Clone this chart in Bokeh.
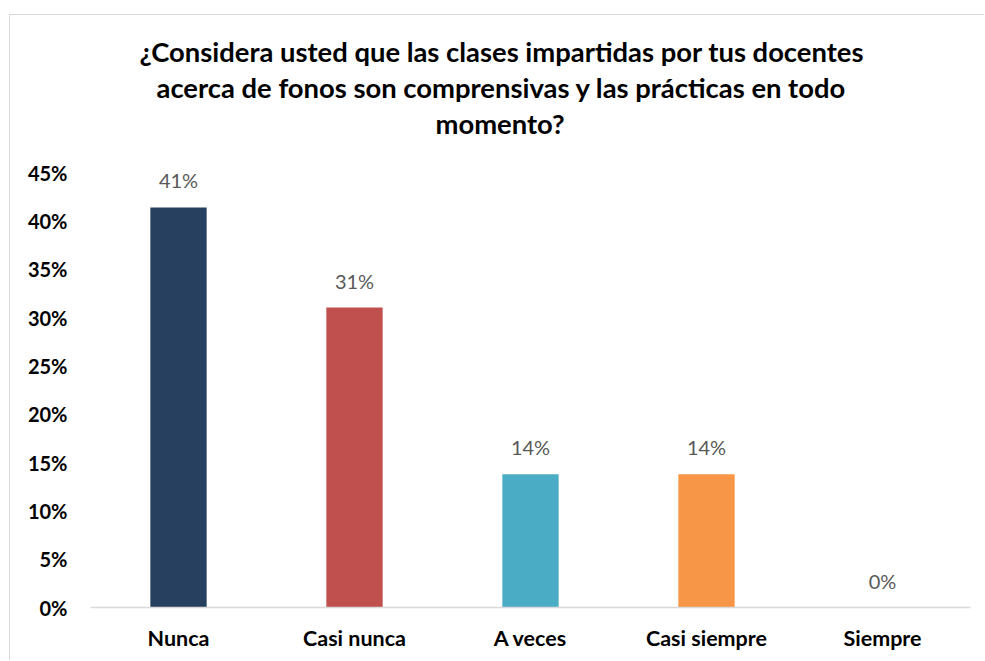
from bokeh.plotting import figure
from bokeh.models import ColumnDataSource, LabelSet, Title, NumeralTickFormatter, FixedTicker
from bokeh.core.properties import value
from bokeh.embed import file_html
from bokeh.resources import INLINE

categories = ["Nunca", "Casi nunca", "A veces", "Casi siempre", "Siempre"]
values = [0.4138, 0.3103, 0.1379, 0.1379, 0.0]
labels = ["41%", "31%", "14%", "14%", "0%"]
colors = ["#27405F", "#C0504D", "#4BACC6", "#F79646", "#4F81BD"]
title_lines = [
    "¿Considera usted que las clases impartidas por tus docentes",
    "acerca de fonos son comprensivas y las prácticas en todo",
    "momento?",
]
y_ticks = [0, 0.05, 0.10, 0.15, 0.20, 0.25, 0.30, 0.35, 0.40, 0.45]

FONT = "Lato"

src = ColumnDataSource(dict(cat=categories, val=values, lab=labels, col=colors))

p = figure(x_range=categories, y_range=(0, 0.45), width=975, height=646,
           output_backend="svg", toolbar_location=None,
           min_border_left=80, min_border_right=15, min_border_bottom=54,
           min_border_top=10,
           styles={"border-top": "1px solid #D9D9D9", "border-left": "1px solid #D9D9D9",
                   "margin-left": "9px", "margin-top": "14px"})

p.vbar(x="cat", top="val", width=0.32, fill_color="col", line_color=None, source=src)

p.add_layout(LabelSet(x="cat", y="val", text="lab", source=src, text_align="center",
                      text_baseline="bottom", y_offset=15, text_color="#595959",
                      text_font_size="20px", text_font=value(FONT)))

# title: spacer below, three lines, spacer above (first added = closest to plot)
p.add_layout(Title(text=" ", text_font_size="10px", standoff=19), "above")
line_offsets = [49, 66, 345]
for line, off in reversed(list(zip(title_lines, line_offsets))):
    p.add_layout(Title(text=line, align="left", offset=off, text_font_size="27.4px",
                       text_font_style="bold", text_font=FONT, text_color="#000000",
                       standoff=1), "above")
p.add_layout(Title(text=" ", text_font_size="10px", standoff=4), "above")

p.xgrid.visible = False
p.ygrid.visible = False
p.outline_line_color = None

p.yaxis.ticker = FixedTicker(ticks=y_ticks)
p.yaxis.formatter = NumeralTickFormatter(format="0%")
p.yaxis.axis_line_color = None
p.yaxis.major_tick_line_color = None
p.yaxis.major_tick_out = 0
p.yaxis.minor_tick_line_color = None
p.yaxis.major_label_text_font = FONT
p.yaxis.major_label_text_font_style = "bold"
p.yaxis.major_label_text_font_size = "20px"
p.yaxis.major_label_text_color = "#000000"
p.yaxis.major_label_standoff = 23

p.xaxis.axis_line_color = "#D9D9D9"
p.xaxis.axis_line_width = 1.5
p.xaxis.major_tick_line_color = None
p.xaxis.major_tick_out = 0
p.xaxis.minor_tick_line_color = None
p.xaxis.major_label_text_font = FONT
p.xaxis.major_label_text_font_style = "bold"
p.xaxis.major_label_text_font_size = "21.5px"
p.xaxis.major_label_text_color = "#000000"
p.xaxis.major_label_standoff = 17

open("out.html", "w").write(file_html(p, INLINE))
